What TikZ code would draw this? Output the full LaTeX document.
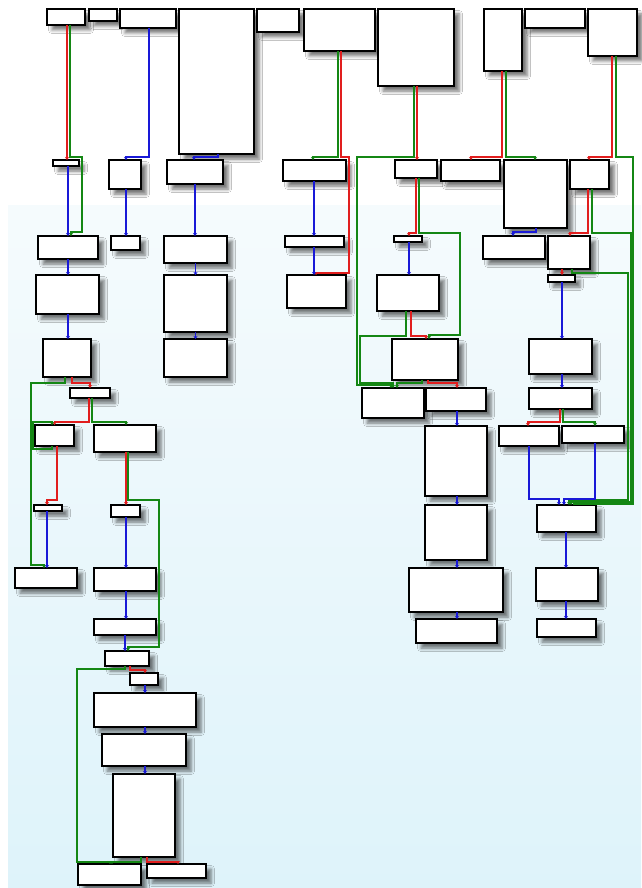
\documentclass[tikz,border=0pt]{standalone}
\usetikzlibrary{arrows.meta,shadows.blur}
\definecolor{jmpred}{RGB}{225,30,30}
\definecolor{jmpgreen}{RGB}{20,135,20}
\definecolor{jmpblue}{RGB}{25,25,215}
\definecolor{bgtop}{RGB}{245,251,253}
\definecolor{bgbot}{RGB}{222,243,250}

\begin{document}
\begin{tikzpicture}[x=1pt,y=-1pt,
		blk/.style={draw=black,fill=white,line width=1.3pt,inner sep=0pt,outer sep=0pt,
			blur shadow={shadow xshift=5pt,shadow yshift=-5pt,shadow blur radius=3.5pt,shadow opacity=55}},
		jmp/.style={line width=1.3pt,-{Stealth[length=3pt,width=4pt]}},
		redge/.style={jmp,jmpred},
		gedge/.style={jmp,jmpgreen},
		bedge/.style={jmp,jmpblue}]
	\useasboundingbox (0,0) rectangle (641,888);
	\fill[white] (0,0) rectangle (641,888);
	\shade[top color=bgtop,bottom color=bgbot] (8,205) rectangle (641,888);
	% basic blocks: name / left / top / right / bottom
	\foreach \nm/\xa/\ya/\xb/\yb in {
			b1/47/9/85/25, b2/89/9/117/21, b3/120/9/176/28, b4/179/9/254/154,
			b5/257/9/299/32, b6/304/9/375/51, b7/378/9/454/86, b8/484/9/522/71,
			b9/525/9/585/28, b10/588/9/637/56,
			c1/53/160/79/166, c2/109/160/141/189, c3/167/160/223/184, c4/283/160/346/181,
			c5/395/160/437/178, c6/441/160/500/181, c7/504/160/567/228, c8/570/160/609/189,
			d1/38/236/98/259, d2/111/236/140/250, d3/164/236/227/263, d4/285/236/344/247,
			d5/394/236/422/242, d6/483/236/545/259, d7/548/236/590/269, d8/548/275/575/282,
			e1/36/275/99/314, e2/164/275/227/332, e3/287/275/346/308, e4/377/275/439/311,
			f1/43/339/91/377, f2/164/339/227/377, f3/392/339/458/380, r1/529/339/592/374,
			g1/70/388/110/398, l1/362/388/424/418, l2/426/388/486/411, r2/529/388/592/409,
			h1/35/425/74/446, h2/94/425/156/452, m1/425/426/487/496, r3/499/426/559/446,
			r4/562/426/624/443, i1/34/505/62/511, i2/111/505/140/517, m2/425/505/487/560,
			r5/537/505/596/532, j1/15/568/77/588, j2/94/568/156/591, m3/409/568/503/612,
			r6/536/568/598/601, k1/94/619/156/635, m4/416/619/497/643, r7/537/619/596/637,
			k2/105/651/149/666, k3/130/673/158/685, k4/94/693/196/727, k5/102/734/186/766,
			k6/113/774/175/857, k7/78/864/141/885, k8/147/864/206/878}{
		\node[blk,minimum width={(\xb-\xa)*1pt},minimum height={(\yb-\ya)*1pt}]
			(\nm) at ({(\xa+\xb)/2},{(\ya+\yb)/2}) {};
	}
	% left column
	\draw[redge] ([xshift=1pt]b1.south) -- ([xshift=1pt]c1.north);
	\draw[gedge] ([xshift=4pt]b1.south) -- (70,157) -| (82,232) -| ([xshift=3pt]d1.north);
	\draw[bedge] ([xshift=2pt]c1.south) -- (d1.north);
	\draw[bedge] ([xshift=1pt]b3.south) -- (149,157) -| ([xshift=1pt]c2.north);
	\draw[bedge] ([xshift=1pt]c2.south) -- ([xshift=.5pt]d2.north);
	\draw[bedge] ([xshift=1.5pt]b4.south) -- (218,157) -| ([xshift=-1pt]c3.north);
	\draw[bedge] (c3.south) -- ([xshift=-.5pt]d3.north);
	\draw[bedge] (d1.south) -- ([xshift=.5pt]e1.north);
	\draw[bedge] (d3.south) -- (e2.north);
	\draw[bedge] ([xshift=.5pt]e1.south) -- ([xshift=1pt]f1.north);
	\draw[bedge] (e2.south) -- (f2.north);
	\draw[redge] ([xshift=5pt]f1.south) -- (72,383) -| (g1.north);
	\draw[gedge] ([xshift=-2pt]f1.south) -- (65,383) -| (31,565) -| ([xshift=-2pt]j1.north);
	\draw[redge] ([xshift=-1pt]g1.south) -- (89,422) -| (h1.north);
	\draw[gedge] ([xshift=2pt]g1.south) -- (92,422) -| ([xshift=1pt]h2.north);
	\draw[gedge,line width=2.6pt] ([xshift=-2.5pt]h1.south) -- (52,449) -| (33,422) -| ([xshift=-2.5pt]h1.north);
	\draw[redge] ([xshift=2.5pt]h1.south) -- (57,500) -| ([xshift=-1pt]i1.north);
	\draw[bedge] ([xshift=-1pt]i1.south) -- ([xshift=1pt]j1.north);
	\draw[redge] ([xshift=1pt]h2.south) -- ([xshift=.5pt]i2.north);
	\draw[gedge] ([xshift=3pt]h2.south) -- (128,500) -| (159,647) -| ([xshift=1pt]k2.north);
	\draw[bedge] ([xshift=.5pt]i2.south) -- ([xshift=1pt]j2.north);
	\draw[bedge] ([xshift=1pt]j2.south) -- ([xshift=1pt]k1.north);
	\draw[bedge] (k1.south) -- ([xshift=-2pt]k2.north);
	\draw[redge] ([xshift=3pt]k2.south) -- (130,670) -| ([xshift=1pt]k3.north);
	\draw[gedge] ([xshift=-2pt]k2.south) -- (125,669) -| (77,862) -| ([xshift=.5pt]k7.north);
	\draw[bedge] ([xshift=1pt]k3.south) -- (k4.north);
	\draw[bedge] (k4.south) -- ([xshift=1pt]k5.north);
	\draw[bedge] ([xshift=1pt]k5.south) -- ([xshift=1pt]k6.north);
	\draw[gedge] ([xshift=-3pt]k6.south) -- (141,862) -| ([xshift=2.5pt]k7.north);
	\draw[redge] ([xshift=3pt]k6.south) -- (147,862) -| ([xshift=1.5pt]k8.north);
	% middle
	\draw[gedge] ([xshift=-1.5pt]b6.south) -- (338,157) -| ([xshift=-1.5pt]c4.north);
	\draw[redge] ([xshift=1.5pt]b6.south) -- (341,157) -| (349,273) -| ([xshift=-.5pt]e3.north);
	\draw[bedge] ([xshift=-.5pt]c4.south) -- ([xshift=-.5pt]d4.north);
	\draw[bedge] ([xshift=-.5pt]d4.south) -- ([xshift=-2.5pt]e3.north);
	\draw[redge] ([xshift=1pt]b7.south) -- ([xshift=1pt]c5.north);
	\draw[gedge] ([xshift=-2pt]b7.south) -- (414,157) -| (357,385) -| ([xshift=-2pt]l1.north);
	\draw[redge] (c5.south) -- (416,233) -| ([xshift=1pt]d5.north);
	\draw[gedge] ([xshift=3pt]c5.south) -- (419,233) -| (460,335) -| ([xshift=4pt]f3.north);
	\draw[bedge] ([xshift=1pt]d5.south) -- ([xshift=1pt]e4.north);
	\draw[gedge] ([xshift=-2pt]e4.south) -- (406,336) -| (360,383) -| (l1.north);
	\draw[redge] ([xshift=3pt]e4.south) -- (411,336) -| ([xshift=1pt]f3.north);
	\draw[gedge] ([xshift=-3pt]f3.south) -- (422,383) -| ([xshift=4pt]l1.north);
	\draw[redge] ([xshift=3pt]f3.south) -- (428,383) -| ([xshift=1pt]l2.north);
	\draw[bedge] ([xshift=1pt]l2.south) -- ([xshift=1pt]m1.north);
	\draw[bedge] ([xshift=1pt]m1.south) -- ([xshift=1pt]m2.north);
	\draw[bedge] ([xshift=1pt]m2.south) -- ([xshift=1pt]m3.north);
	\draw[bedge] ([xshift=1pt]m3.south) -- ([xshift=.5pt]m4.north);
	% right
	\draw[redge] ([xshift=-1pt]b8.south) -- (502,157) -| ([xshift=.5pt]c6.north);
	\draw[gedge] ([xshift=3pt]b8.south) -- (506,157) -| ([xshift=-.5pt]c7.north);
	\draw[bedge] ([xshift=.5pt]c7.south) -- (536,232) -| ([xshift=-1pt]d6.north);
	\draw[redge] ([xshift=-.5pt]b10.south) -- (612,157) -| ([xshift=-.5pt]c8.north);
	\draw[gedge] ([xshift=3.5pt]b10.south) -- (616,157) -| (633,504) -| ([xshift=7.5pt]r5.north);
	\draw[redge] ([xshift=-1.5pt]c8.south) -- (588,233) -| ([xshift=1pt]d7.north);
	\draw[gedge] ([xshift=2.5pt]c8.south) -- (592,233) -| (631,502) -| ([xshift=4.5pt]r5.north);
	\draw[redge] ([xshift=-7pt]d7.south) -- ([xshift=.5pt]d8.north);
	\draw[gedge] ([xshift=3pt]d7.south) -- (572,273) -| (628,500) -| ([xshift=2.5pt]r5.north);
	\draw[bedge] ([xshift=.5pt]d8.south) -- ([xshift=1.5pt]r1.north);
	\draw[bedge] ([xshift=1.5pt]r1.south) -- ([xshift=1.5pt]r2.north);
	\draw[redge] ([xshift=-.5pt]r2.south) -- (560,422) -| ([xshift=-1pt]r3.north);
	\draw[gedge] ([xshift=2.5pt]r2.south) -- (563,422) -| ([xshift=2pt]r4.north);
	\draw[bedge] (r3.south) -- (529,499) -| ([xshift=-7.5pt]r5.north);
	\draw[bedge] ([xshift=2pt]r4.south) -- (595,499) -| ([xshift=-2.5pt]r5.north);
	\draw[bedge] ([xshift=-.5pt]r5.south) -- ([xshift=-1pt]r6.north);
	\draw[bedge] ([xshift=-1pt]r6.south) -- ([xshift=-.5pt]r7.north);
\end{tikzpicture}
\end{document}
